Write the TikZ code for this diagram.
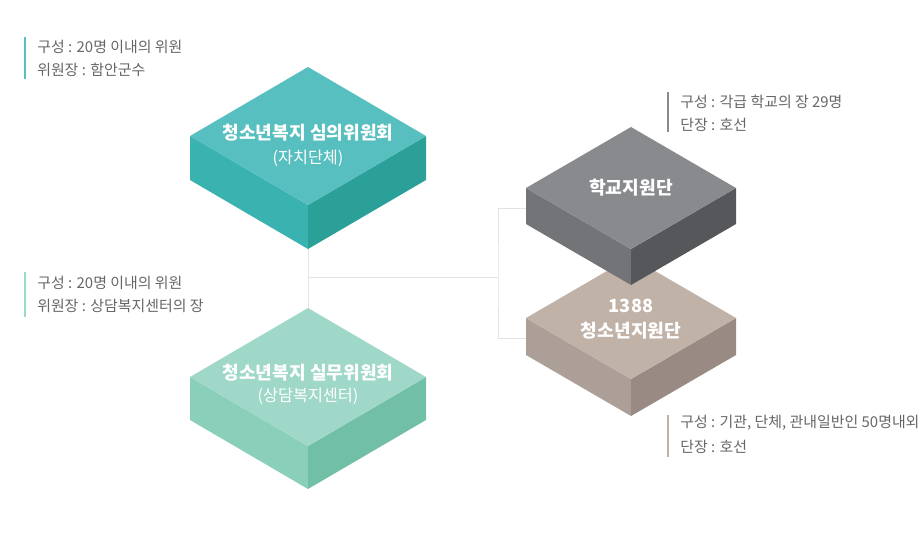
\documentclass[tikz,border=0pt]{standalone}
\usepackage{fontspec}
\setmainfont{Noto Sans CJK KR}
\definecolor{tealtop}{HTML}{57BFBF}
\definecolor{tealleft}{HTML}{3AB3B0}
\definecolor{tealright}{HTML}{2BA099}
\definecolor{minttop}{HTML}{9FD7C9}
\definecolor{mintleft}{HTML}{8ACFBA}
\definecolor{mintright}{HTML}{71BFA6}
\definecolor{graytop}{HTML}{898A8E}
\definecolor{grayleft}{HTML}{737478}
\definecolor{grayright}{HTML}{56575B}
\definecolor{beigetop}{HTML}{C1B2A8}
\definecolor{beigeleft}{HTML}{AC9F97}
\definecolor{beigeright}{HTML}{998B84}
\definecolor{infotext}{HTML}{666666}
\definecolor{linkline}{HTML}{E3E3E3}

\begin{document}
\begin{tikzpicture}[x=0.75pt,y=0.75pt,yscale=-1,xscale=1,
  title/.style={text=white,font=\fontsize{13.6}{16}\selectfont\bfseries,inner sep=0.75pt},
  subtitle/.style={text=white,font=\fontsize{12.2}{14}\selectfont,inner sep=0.75pt},
  info/.style={text=infotext,font=\fontsize{11.2}{13}\selectfont,anchor=west,inner sep=0.75pt},
  bar/.style={line width=1.9pt},
  link/.style={draw=linkline,line width=0.75pt}]
\useasboundingbox (0,0) rectangle (920,537);
% connectors
\coordinate (c1) at (308,247);
\coordinate (c3) at (308,308);
\coordinate (cm) at (308,277);
\coordinate (cj) at (498,277);
\coordinate (c2) at (526,208);
\coordinate (c4) at (526,338);
\draw[link] (c1) -- (c3);
\draw[link] (cm) -- (cj);
\draw[link] (c2) -| (cj) |- (c4);
% box 1
\fill[tealleft]  (190,136) -- (308,205) -- (308,249) -- (190,180) -- cycle;
\fill[tealright] (308,205) -- (426,136) -- (426,180) -- (308,249) -- cycle;
\fill[tealtop]   (308,67) -- (426,136) -- (308,205) -- (190,136) -- cycle;
% box 3
\fill[mintleft]  (190,377) -- (308,446) -- (308,489) -- (190,420) -- cycle;
\fill[mintright] (308,446) -- (426,377) -- (426,420) -- (308,489) -- cycle;
\fill[minttop]   (308,308) -- (426,377) -- (308,446) -- (190,377) -- cycle;
% box 4
\fill[beigeleft]  (526,318) -- (631,379) -- (631,416) -- (526,355) -- cycle;
\fill[beigeright] (631,379) -- (736,318) -- (736,355) -- (631,416) -- cycle;
\fill[beigetop]   (631,257) -- (736,318) -- (631,379) -- (526,318) -- cycle;
% box 2
\fill[grayleft]  (526,188) -- (631,249) -- (631,285) -- (526,224) -- cycle;
\fill[grayright] (631,249) -- (736,188) -- (736,224) -- (631,285) -- cycle;
\fill[graytop]   (631,127) -- (736,188) -- (631,249) -- (526,188) -- cycle;
% box labels
\node[title] (simui) at (308,133) {청소년복지 심의위원회};
\node[subtitle] (simuisub) at (308,158) {(자치단체)};
\node[title] (silmu) at (308,373) {청소년복지 실무위원회};
\node[subtitle] (silmusub) at (308,396) {(상담복지센터)};
\node[title] (hakgyo) at (631,188) {학교지원단};
\node[title] (num) at (631,306) {1388};
\node[title] (jiwon) at (631,331) {청소년지원단};
% info texts
\draw[bar,tealtop] (25,37) -- (25,79);
\node[info] (simuiA) at (36,47) {구성 : 20명 이내의 위원};
\node[info] (simuiB) at (36,70) {위원장 : 함안군수};
\draw[bar,minttop] (25,272) -- (25,317);
\node[info] (silmuA) at (36,283) {구성 : 20명 이내의 위원};
\node[info] (silmuB) at (36,306) {위원장 : 상담복지센터의 장};
\draw[bar,graytop] (668,92) -- (668,132);
\node[info] (hakgyoA) at (679,102) {구성 : 각급 학교의 장 29명};
\node[info] (hakgyoB) at (679,125) {단장 : 호선};
\draw[bar,beigetop] (668,415) -- (668,457);
\node[info] (jiwonA) at (679,423) {구성 : 기관, 단체, 관내일반인 50명내외};
\node[info] (jiwonB) at (679,447) {단장 : 호선};
\end{tikzpicture}
\end{document}
